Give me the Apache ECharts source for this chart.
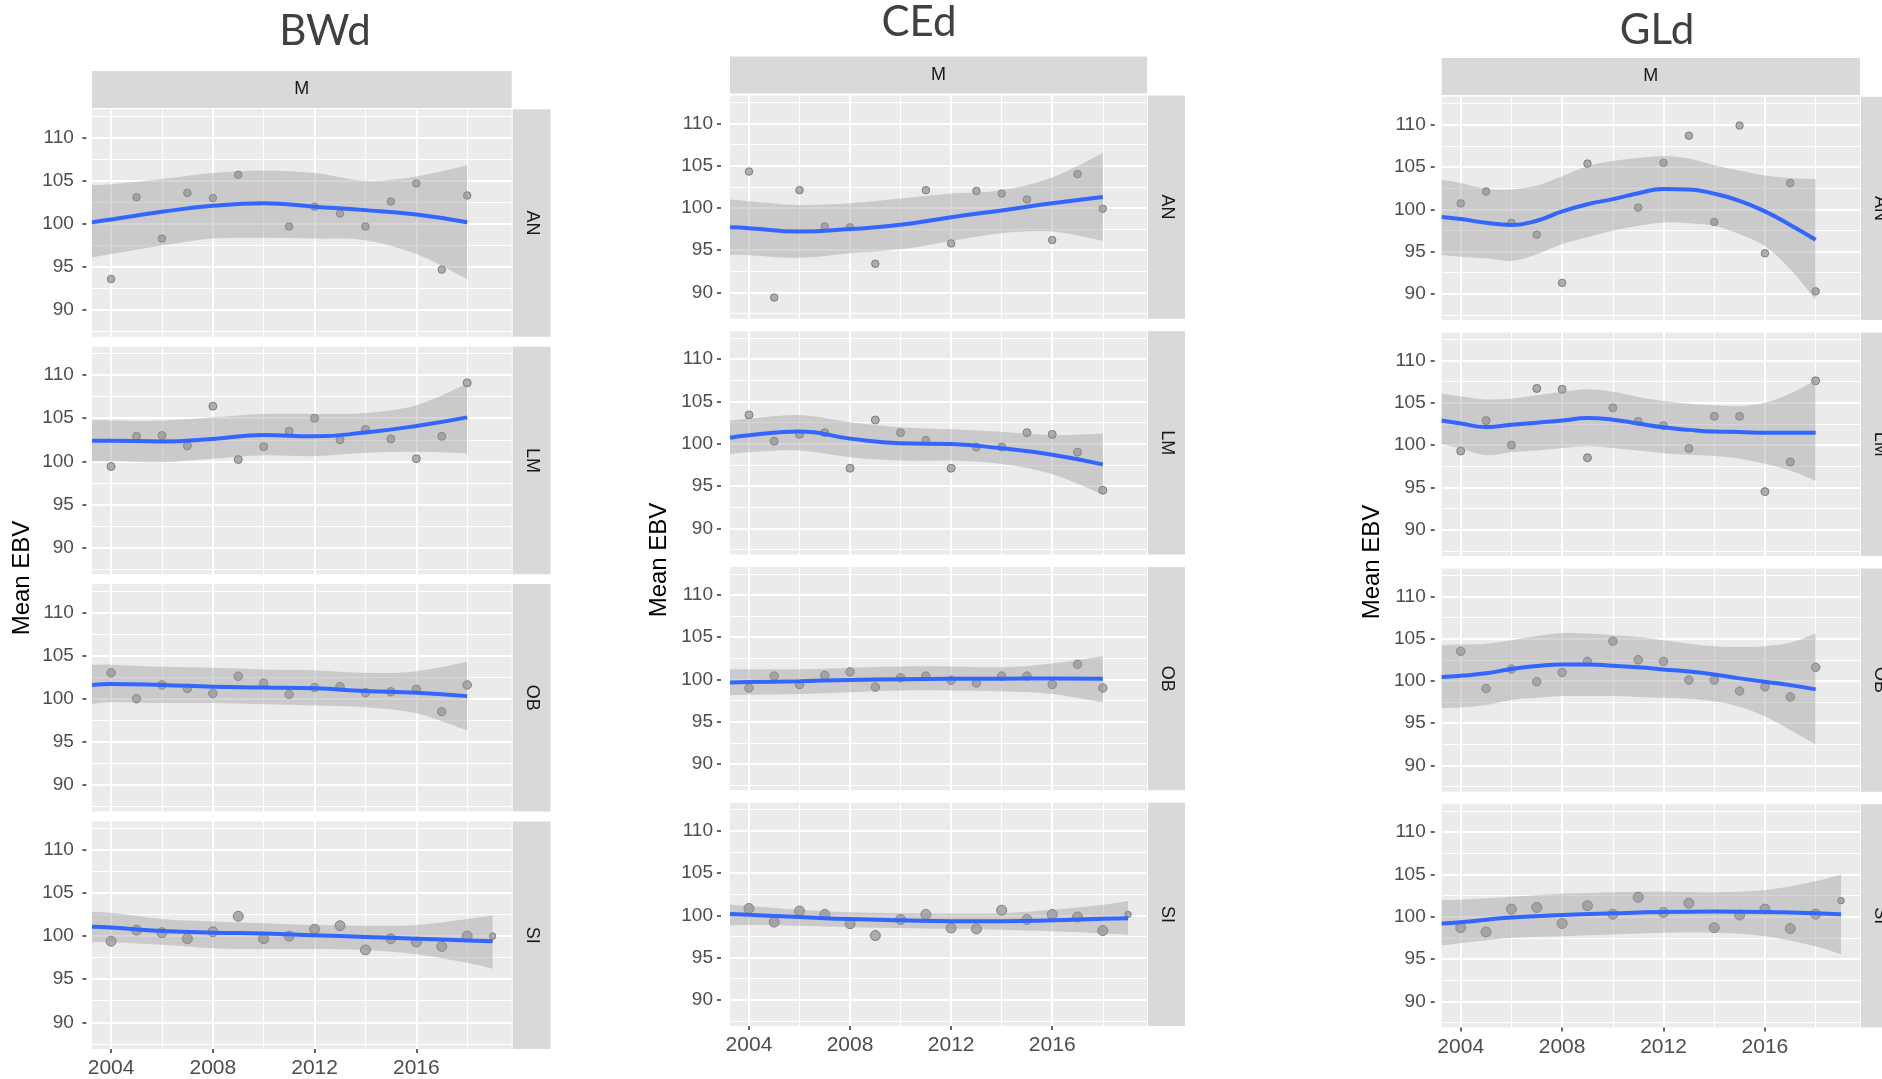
<!DOCTYPE html>
<html>
<head>
<meta charset="utf-8">
<script src="https://cdn.jsdelivr.net/npm/echarts@6/dist/echarts.min.js"></script>
<style>
  html, body { margin: 0; padding: 0; background: #ffffff; }
  #chart { width: 1882px; height: 1079px; }
</style>
</head>
<body>
<div id="chart"></div>
<script>
// ---------------------------------------------------------------------------
// Mean EBV by year of birth, three traits (BWd, CEd, GLd), males (M),
// four breeds (AN, LM, OB, SI): yearly means, loess fit and its 95% band.
// ---------------------------------------------------------------------------

const YEARS = [2004, 2005, 2006, 2007, 2008, 2009, 2010, 2011, 2012, 2013, 2014, 2015, 2016, 2017, 2018];
const YEARS_SI = [2004, 2005, 2006, 2007, 2008, 2009, 2010, 2011, 2012, 2013, 2014, 2015, 2016, 2017, 2018, 2019];

// knots at which the smoother and its band are evaluated
const KNOTS_2Y = [2003.25, 2004, 2006, 2008, 2010, 2012, 2014, 2016, 2018];
const KNOTS_2Y_SI = [2003.25, 2004, 2006, 2008, 2010, 2012, 2014, 2016, 2018, 2019];
const KNOTS_1Y = [2003.25, 2004, 2005, 2006, 2007, 2008, 2009, 2010, 2011, 2012, 2013, 2014, 2015, 2016, 2017, 2018];

// tick labels
const Y_MAJOR = [90, 95, 100, 105, 110];
const Y_MINOR = [87.5, 92.5, 97.5, 102.5, 107.5, 112.5];
const X_MAJOR = [2004, 2008, 2012, 2016];
const X_MINOR = [2006, 2010, 2014, 2018];

const TRAITS = ['BWd', 'CEd', 'GLd'];
const BREEDS = ['AN', 'LM', 'OB', 'SI'];
const SEX = 'M';

// ---- BWd ----
const bwdAnPts = [93.6, 103.1, 98.3, 103.6, 103.0, 105.7, null, 99.7, 102.0, 101.2, 99.7, 102.6, 104.7, 94.7, 103.3];
const bwdAnFit = [100.2, 100.5, 101.4, 102.1, 102.4, 102.0, 101.6, 101.1, 100.2];
const bwdAnLo  = [96.1, 96.5, 97.5, 98.3, 98.4, 98.3, 98.1, 96.5, 93.6];
const bwdAnHi  = [104.5, 104.6, 105.2, 105.9, 106.2, 105.9, 105.0, 105.5, 106.8];

const bwdLmPts = [99.4, 102.9, 103.0, 101.8, 106.4, 100.2, 101.7, 103.5, 105.0, 102.5, 103.7, 102.6, 100.3, 102.9, 109.1];
const bwdLmFit = [102.4, 102.4, 102.3, 102.6, 103.05, 102.9, 103.35, 104.1, 105.1];
const bwdLmLo  = [100.0, 100.0, 99.9, 100.3, 100.7, 100.6, 101.0, 101.1, 100.9];
const bwdLmHi  = [104.75, 104.75, 104.7, 105.1, 105.5, 105.5, 105.6, 106.5, 109.0];

const bwdObPts = [103.0, 100.0, 101.6, 101.2, 100.6, 102.6, 101.8, 100.5, 101.3, 101.4, 100.7, 100.8, 101.1, 98.5, 101.6];
const bwdObFit = [101.6, 101.7, 101.6, 101.4, 101.3, 101.2, 100.9, 100.7, 100.3];
const bwdObLo  = [99.4, 99.6, 99.5, 99.5, 99.35, 99.2, 99.0, 98.3, 96.3];
const bwdObHi  = [103.9, 103.95, 103.7, 103.6, 103.4, 103.3, 103.0, 103.2, 104.3];

const bwdSiPts = [99.4, 100.7, 100.4, 99.7, 100.5, 102.3, 99.7, 100.0, 100.8, 101.2, 98.4, 99.7, 99.3, 98.8, 100.0, 100.0];
const bwdSiFit = [101.1, 101.0, 100.6, 100.4, 100.3, 100.1, 99.9, 99.7, 99.5, 99.4];
const bwdSiLo  = [99.3, 99.3, 99.0, 98.6, 98.5, 98.5, 98.4, 97.9, 96.9, 96.2];
const bwdSiHi  = [102.8, 102.7, 102.0, 101.7, 101.5, 101.3, 101.2, 101.3, 102.0, 102.4];

// ---- CEd ----
const cedAnPts = [104.3, 89.4, 102.1, 97.8, 97.7, 93.4, null, 102.1, 95.8, 102.0, 101.7, 101.0, 96.2, 104.0, 99.9];
const cedAnFit = [97.7, 97.6, 97.2, 97.5, 98.0, 98.9, 99.7, 100.55, 101.3];
const cedAnLo  = [94.45, 94.4, 94.1, 94.65, 95.1, 96.1, 97.0, 97.2, 96.1];
const cedAnHi  = [101.0, 100.8, 100.35, 100.55, 101.1, 101.7, 102.1, 103.6, 106.5];

const cedLmPts = [103.4, 100.3, 101.1, 101.3, 97.1, 102.8, 101.3, 100.4, 97.1, 99.6, 99.6, 101.3, 101.1, 99.0, 94.5];
const cedLmFit = [100.7, 101.0, 101.45, 100.6, 100.05, 99.95, 99.45, 98.7, 97.55];
const cedLmLo  = [98.8, 99.0, 99.2, 98.4, 98.0, 98.0, 97.6, 96.4, 94.0];
const cedLmHi  = [102.75, 102.95, 103.4, 102.55, 101.95, 101.7, 101.4, 101.0, 101.2];

const cedObPts = [99.0, 100.4, 99.4, 100.5, 100.9, 99.1, 100.2, 100.4, 99.9, 99.6, 100.4, 100.4, 99.4, 101.8, 99.0];
const cedObFit = [99.65, 99.7, 99.8, 99.95, 100.03, 100.08, 100.1, 100.12, 100.1];
const cedObLo  = [98.15, 98.2, 98.3, 98.5, 98.7, 98.7, 98.6, 98.3, 97.3];
const cedObHi  = [101.2, 101.2, 101.2, 101.4, 101.55, 101.55, 101.45, 101.9, 102.75];

const cedSiPts = [100.8, 99.2, 100.5, 100.1, 99.0, 97.6, 99.5, 100.1, 98.5, 98.4, 100.6, 99.5, 100.1, 99.8, 98.2, 100.1];
const cedSiFit = [100.15, 100.05, 99.8, 99.55, 99.4, 99.3, 99.3, 99.4, 99.6, 99.65];
const cedSiLo  = [98.8, 98.85, 98.75, 98.6, 98.5, 98.4, 98.3, 98.1, 97.85, 97.7];
const cedSiHi  = [101.25, 101.1, 100.65, 100.35, 100.25, 100.2, 100.25, 100.65, 101.25, 101.7];

// ---- GLd ----
const gldAnPts = [100.7, 102.1, 98.4, 97.0, 91.3, 105.4, null, 100.2, 105.5, 108.7, 98.5, 109.9, 94.8, 103.1, 90.3];
const gldAnFit = [99.1, 98.85, 98.4, 98.15, 98.65, 99.75, 100.6, 101.2, 101.9, 102.4, 102.35, 101.85, 101.0, 99.75, 98.15, 96.4];
const gldAnLo  = [94.6, 94.4, 94.2, 93.9, 94.7, 95.9, 96.7, 97.45, 98.05, 98.45, 98.35, 98.05, 97.05, 95.65, 92.9, 89.3];
const gldAnHi  = [103.5, 103.1, 102.4, 102.35, 102.8, 103.9, 105.1, 105.7, 106.05, 106.3, 106.0, 105.2, 104.6, 104.0, 103.7, 103.55];

const gldLmPts = [99.3, 102.9, 100.0, 106.7, 106.6, 98.5, 104.4, 102.8, 102.3, 99.6, 103.4, 103.4, 94.5, 98.0, 107.6];
const gldLmFit = [102.9, 102.55, 102.15, 102.4, 102.65, 102.9, 103.2, 103.0, 102.55, 102.1, 101.8, 101.6, 101.55, 101.45, 101.45, 101.45];
const gldLmLo  = [100.1, 99.6, 98.8, 99.15, 99.35, 99.65, 99.9, 99.65, 99.35, 99.05, 98.85, 98.7, 98.4, 97.8, 97.0, 95.8];
const gldLmHi  = [106.1, 105.75, 105.4, 105.5, 105.9, 106.3, 106.6, 106.3, 105.7, 105.2, 104.9, 104.7, 104.6, 105.0, 106.1, 107.7];

const gldObPts = [103.5, 99.1, 101.4, 99.9, 101.0, 102.3, 104.7, 102.5, 102.3, 100.1, 100.1, 98.8, 99.3, 98.1, 101.6];
const gldObFit = [100.45, 100.6, 100.9, 101.4, 101.75, 101.95, 101.95, 101.8, 101.6, 101.35, 101.1, 100.75, 100.3, 99.9, 99.5, 99.0];
const gldObLo  = [96.8, 96.85, 97.15, 97.75, 98.0, 98.2, 98.2, 98.2, 98.1, 98.0, 97.9, 97.6, 96.95, 95.8, 94.2, 92.5];
const gldObHi  = [104.2, 104.3, 104.4, 104.8, 105.3, 105.65, 105.6, 105.4, 105.2, 104.8, 104.4, 104.1, 104.0, 104.1, 104.5, 105.6];

const gldSiPts = [98.7, 98.2, 100.9, 101.1, 99.2, 101.3, 100.3, 102.3, 100.5, 101.6, 98.7, 100.2, 100.9, 98.6, 100.3, 101.9];
const gldSiFit = [99.2, 99.35, 99.9, 100.2, 100.4, 100.55, 100.6, 100.55, 100.4, 100.3];
const gldSiLo  = [96.6, 96.85, 97.5, 97.7, 97.9, 98.1, 98.1, 97.7, 96.5, 95.55];
const gldSiHi  = [102.0, 102.0, 102.35, 102.7, 102.9, 102.95, 102.9, 103.15, 104.2, 105.0];

// panel table: [trait][breed]
const PANELS = [
  [
    { years: YEARS, pts: bwdAnPts, knots: KNOTS_2Y, fit: bwdAnFit, lo: bwdAnLo, hi: bwdAnHi },
    { years: YEARS, pts: bwdLmPts, knots: KNOTS_2Y, fit: bwdLmFit, lo: bwdLmLo, hi: bwdLmHi },
    { years: YEARS, pts: bwdObPts, knots: KNOTS_2Y, fit: bwdObFit, lo: bwdObLo, hi: bwdObHi },
    { years: YEARS_SI, pts: bwdSiPts, knots: KNOTS_2Y_SI, fit: bwdSiFit, lo: bwdSiLo, hi: bwdSiHi }
  ],
  [
    { years: YEARS, pts: cedAnPts, knots: KNOTS_2Y, fit: cedAnFit, lo: cedAnLo, hi: cedAnHi },
    { years: YEARS, pts: cedLmPts, knots: KNOTS_2Y, fit: cedLmFit, lo: cedLmLo, hi: cedLmHi },
    { years: YEARS, pts: cedObPts, knots: KNOTS_2Y, fit: cedObFit, lo: cedObLo, hi: cedObHi },
    { years: YEARS_SI, pts: cedSiPts, knots: KNOTS_2Y_SI, fit: cedSiFit, lo: cedSiLo, hi: cedSiHi }
  ],
  [
    { years: YEARS, pts: gldAnPts, knots: KNOTS_1Y, fit: gldAnFit, lo: gldAnLo, hi: gldAnHi },
    { years: YEARS, pts: gldLmPts, knots: KNOTS_1Y, fit: gldLmFit, lo: gldLmLo, hi: gldLmHi },
    { years: YEARS, pts: gldObPts, knots: KNOTS_1Y, fit: gldObFit, lo: gldObLo, hi: gldObHi },
    { years: YEARS_SI, pts: gldSiPts, knots: KNOTS_2Y_SI, fit: gldSiFit, lo: gldSiLo, hi: gldSiHi }
  ]
];

// ---------------------------------------------------------------------------
// layout and style
// ---------------------------------------------------------------------------
const Y_MIN = 86.9, Y_MAX = 113.3;
const X_MIN = 2003.25, X_MAX = 2019.75;

const COLUMN_LAYOUT = [
  { left: 92,   right: 511.7, stripRight: 550.5, tops: [109.3, 346.7, 584.1, 821.5], height: 227.5,
    stripTop: 71, stripBottom: 108, title: [325, 31], yTitle: [22, 578], tickGap: 5.6, labelMargin: 12.5 },
  { left: 730,  right: 1147, stripRight: 1185, tops: [95.4, 331.2, 567, 802.8], height: 223.3,
    stripTop: 56.5, stripBottom: 93.5, title: [919, 22], yTitle: [659, 560], tickGap: 9, labelMargin: 8 },
  { left: 1441.7, right: 1860, stripRight: 1899, tops: [96.8, 332.6, 568.4, 804.2], height: 223.3,
    stripTop: 58, stripBottom: 95, title: [1657, 30], yTitle: [1372, 562], tickGap: 7, labelMargin: 9 }
];

const POINT_SIZE = [7.5, 8, 8.5, 10];
const LAST_POINT_SIZE = 6.5;

const PANEL_BG = '#EBEBEB';
const STRIP_BG = '#D9D9D9';
const AXIS_TEXT = '#4D4D4D';
const STRIP_TEXT = '#1A1A1A';
const FIT_COLOR = '#3366FF';
const BAND_COLOR = 'rgba(153,153,153,0.4)';
const BASE_FONT = '"Liberation Sans", Arial, Helvetica, sans-serif';

// Catmull-Rom spline through pixel points, as cubic Bezier segments
function splineSegments(pts) {
  let d = '';
  for (let i = 0; i < pts.length - 1; i++) {
    const p0 = pts[i - 1] || pts[i];
    const p1 = pts[i];
    const p2 = pts[i + 1];
    const p3 = pts[i + 2] || pts[i + 1];
    const c1 = [p1[0] + (p2[0] - p0[0]) / 6, p1[1] + (p2[1] - p0[1]) / 6];
    const c2 = [p2[0] - (p3[0] - p1[0]) / 6, p2[1] - (p3[1] - p1[1]) / 6];
    d += ' C' + c1[0] + ',' + c1[1] + ' ' + c2[0] + ',' + c2[1] + ' ' + p2[0] + ',' + p2[1];
  }
  return d;
}

// ribbon between lower and upper confidence limits
function bandRenderer(P) {
  return function (params, api) {
    if (params.dataIndex !== 0) return null;
    const upper = P.knots.map((k, i) => api.coord([k, P.hi[i]]));
    const lower = P.knots.map((k, i) => api.coord([k, P.lo[i]])).reverse();
    const d = 'M' + upper[0][0] + ',' + upper[0][1] + splineSegments(upper) +
              ' L' + lower[0][0] + ',' + lower[0][1] + splineSegments(lower) + ' Z';
    return { type: 'path', shape: { pathData: d }, style: { fill: BAND_COLOR, stroke: null } };
  };
}

// ---------------------------------------------------------------------------
// build option
// ---------------------------------------------------------------------------
const grids = [], xAxes = [], yAxes = [], series = [], graphics = [];

COLUMN_LAYOUT.forEach((L, c) => {
  // trait title
  graphics.push({
    type: 'text', x: L.title[0], y: L.title[1], silent: true,
    style: { text: TRAITS[c], fill: '#404040', font: '42px Lato, "Open Sans", sans-serif',
             align: 'center', verticalAlign: 'middle' }
  });
  // y-axis title
  graphics.push({
    type: 'text', x: L.yTitle[0], y: L.yTitle[1], rotation: Math.PI / 2, silent: true,
    style: { text: 'Mean EBV', fill: '#000000', font: '24px ' + BASE_FONT,
             align: 'center', verticalAlign: 'middle' }
  });
  // column strip (sex)
  graphics.push({
    type: 'rect', silent: true, z: 0,
    shape: { x: L.left, y: L.stripTop, width: L.right - L.left, height: L.stripBottom - L.stripTop },
    style: { fill: STRIP_BG }
  });
  graphics.push({
    type: 'text', silent: true, x: (L.left + L.right) / 2, y: (L.stripTop + L.stripBottom) / 2,
    style: { text: SEX, fill: STRIP_TEXT, font: '18px ' + BASE_FONT, align: 'center', verticalAlign: 'middle' }
  });

  BREEDS.forEach((breed, r) => {
    const g = c * 4 + r;
    const P = PANELS[c][r];
    const top = L.tops[r];
    const isBottom = r === BREEDS.length - 1;

    grids.push({
      left: L.left, top: top, width: L.right - L.left, height: L.height,
      show: true, backgroundColor: PANEL_BG, borderWidth: 0, containLabel: false
    });

    // major x axis (labels on the bottom row only)
    xAxes.push({
      gridIndex: g, type: 'value', position: 'bottom', min: X_MIN, max: X_MAX,
      axisLine: { show: false },
      axisTick: { show: isBottom, length: 4, customValues: X_MAJOR, lineStyle: { color: '#333333', width: 1.5 } },
      axisLabel: { show: isBottom, customValues: X_MAJOR, margin: 9, fontSize: 21,
                   color: AXIS_TEXT, fontFamily: BASE_FONT, formatter: (v) => String(v) },
      splitLine: { show: true, lineStyle: { color: '#ffffff', width: 2 } }
    });
    // minor x grid lines
    xAxes.push({
      gridIndex: g, type: 'value', position: 'bottom', min: X_MIN, max: X_MAX,
      axisLine: { show: false },
      axisTick: { show: false, customValues: X_MINOR },
      axisLabel: { show: false, customValues: X_MINOR },
      splitLine: { show: true, lineStyle: { color: '#ffffff', width: 1 } }
    });
    // major y axis
    yAxes.push({
      gridIndex: g, type: 'value', position: 'left', offset: L.tickGap, min: Y_MIN, max: Y_MAX,
      axisLine: { show: false },
      axisTick: { show: true, length: 4, customValues: Y_MAJOR, lineStyle: { color: '#333333', width: 1.5 } },
      axisLabel: { show: true, customValues: Y_MAJOR, margin: L.labelMargin, fontSize: 19,
                   color: AXIS_TEXT, fontFamily: BASE_FONT, formatter: (v) => String(v) },
      splitLine: { show: true, lineStyle: { color: '#ffffff', width: 2 } }
    });
    // minor y grid lines
    yAxes.push({
      gridIndex: g, type: 'value', position: 'left', min: Y_MIN, max: Y_MAX,
      axisLine: { show: false },
      axisTick: { show: false, customValues: Y_MINOR },
      axisLabel: { show: false, customValues: Y_MINOR },
      splitLine: { show: true, lineStyle: { color: '#ffffff', width: 1 } }
    });

    const xi = 2 * g, yi = 2 * g;
    const lastYear = P.years[P.years.length - 1];

    // yearly means
    series.push({
      type: 'scatter', xAxisIndex: xi, yAxisIndex: yi, z: 2, silent: true,
      data: P.years.map((yr, i) => [yr, P.pts[i]]).filter(d => d[1] !== null),
      symbolSize: (val) => (P.years === YEARS_SI && val[0] === lastYear) ? LAST_POINT_SIZE : POINT_SIZE[r],
      itemStyle: { color: 'rgba(140,140,140,0.85)', borderColor: '#6b6b6b', borderWidth: 1 }
    });
    // confidence band
    series.push({
      type: 'custom', xAxisIndex: xi, yAxisIndex: yi, z: 3, silent: true, clip: true,
      renderItem: bandRenderer(P),
      encode: { x: 0, y: [1, 2] },
      data: P.knots.map((k, i) => [k, P.lo[i], P.hi[i]])
    });
    // loess fit
    series.push({
      type: 'line', xAxisIndex: xi, yAxisIndex: yi, z: 4, silent: true,
      smooth: true, symbol: 'none',
      lineStyle: { color: FIT_COLOR, width: 4 },
      data: P.knots.map((k, i) => [k, P.fit[i]])
    });

    // row strip (breed)
    graphics.push({
      type: 'rect', silent: true, z: 0,
      shape: { x: L.right + 1, y: top, width: L.stripRight - L.right - 1, height: L.height },
      style: { fill: STRIP_BG }
    });
    graphics.push({
      type: 'text', silent: true, rotation: -Math.PI / 2,
      x: (L.right + 1 + L.stripRight) / 2, y: top + L.height / 2,
      style: { text: breed, fill: STRIP_TEXT, font: '18px ' + BASE_FONT, align: 'center', verticalAlign: 'middle' }
    });
  });
});

const chart = echarts.init(document.getElementById('chart'), null, { renderer: 'canvas' });
chart.setOption({
  animation: false,
  backgroundColor: '#ffffff',
  textStyle: { fontFamily: BASE_FONT },
  grid: grids,
  xAxis: xAxes,
  yAxis: yAxes,
  series: series,
  graphic: { elements: graphics }
});
</script>
</body>
</html>
